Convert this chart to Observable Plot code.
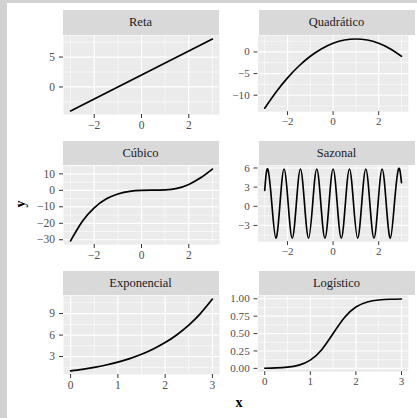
<!DOCTYPE html>
<html>
<head>
<meta charset="utf-8">
<script src="https://cdn.jsdelivr.net/npm/d3@7"></script>
<script src="https://cdn.jsdelivr.net/npm/@observablehq/plot@0.6"></script>
<style>
  html, body { margin: 0; padding: 0; }
  body { width: 417px; height: 418px; background: #d2d2d2; position: relative; overflow: hidden; }
  #paper { position: absolute; left: 7px; top: 3px; width: 410px; height: 415px; background: #ffffff; }
  .strip { position: absolute; background: #D9D9D9; color: #1A1A1A; font-family: "Liberation Serif", serif;
           font-size: 12.5px; text-align: center; box-sizing: border-box; }
  .panel { position: absolute; }
  .panel svg { overflow: visible; font-family: "Liberation Serif", serif !important; }
  .panel svg text { font-family: "Liberation Serif", serif !important; font-size: 11.5px !important; }
  .atitle { position: absolute; font-family: "Liberation Serif", serif; font-weight: bold; font-size: 14px; color: #000; }
</style>
</head>
<body>
<div id="paper"></div>
<div id="root"></div>
<script>
// ---------------- data ----------------
const titles = ["Reta", "Quadrático", "Cúbico", "Sazonal", "Exponencial", "Logístico"];

const retaX = [-3, 3];
const retaY = [-4, 8];

const quadX = [-3, -2.5, -2, -1.5, -1, -0.5, 0, 0.5, 1, 1.5, 2, 2.5, 3];
const quadY = [-13, -9.25, -6, -3.25, -1, 0.75, 2, 2.75, 3, 2.75, 2, 0.75, -1];

const cubX = [-3, -2.5, -2, -1.5, -1, -0.5, 0, 0.5, 1, 1.5, 2, 2.5, 3];
const cubY = [-30.7, -18.8, -10.6, -5.3, -2.2, -0.6, 0, 0.1, 0.3, 1.2, 3.6, 7.6, 12.9];

const sazX = [-3, -2.868, -2.689, -2.510, -2.330, -2.151, -1.972, -1.793, -1.613, -1.434, -1.255, -1.076,
              -0.896, -0.717, -0.538, -0.359, -0.179, 0, 0.179, 0.359, 0.538, 0.717, 0.896, 1.076, 1.255,
              1.434, 1.613, 1.793, 1.972, 2.151, 2.330, 2.510, 2.689, 2.868, 3];
const sazY = [2.5, 5.85, 0.42, -5.0, 0.42, 5.85, 0.42, -5.0, 0.42, 5.85, 0.42, -5.0,
              0.42, 5.85, 0.42, -5.0, 0.42, 5.85, 0.42, -5.0, 0.42, 5.85, 0.42, -5.0, 0.42,
              5.85, 0.42, -5.0, 0.42, 5.85, 0.42, -5.0, 0.42, 5.85, 3.7];

const expX = [0, 0.25, 0.5, 0.75, 1, 1.25, 1.5, 1.75, 2, 2.25, 2.5, 2.75, 3];
const expY = [1, 1.22, 1.49, 1.82, 2.23, 2.72, 3.32, 4.06, 4.95, 6.05, 7.39, 9.03, 11.02];

const logX = [0, 0.25, 0.5, 0.75, 1, 1.25, 1.5, 1.75, 2, 2.25, 2.5, 2.75, 3];
const logY = [0.0025, 0.0067, 0.018, 0.047, 0.119, 0.269, 0.5, 0.731, 0.881, 0.953, 0.982, 0.993, 0.9975];

// ticks
const symXTicks = [-2, 0, 2];
const symXLabels = ["−2", "0", "2"];
const symXMinor = [-3, -1, 1, 3];
const posXTicks = [0, 1, 2, 3];
const posXLabels = ["0", "1", "2", "3"];
const posXMinor = [0.5, 1.5, 2.5];

const retaYTicks = [0, 5];
const retaYLabels = ["0", "5"];
const retaYMinor = [-2.5, 2.5, 7.5];
const quadYTicks = [-10, -5, 0];
const quadYLabels = ["−10", "−5", "0"];
const quadYMinor = [-12.5, -7.5, -2.5, 2.5];
const cubYTicks = [-30, -20, -10, 0, 10];
const cubYLabels = ["−30", "−20", "−10", "0", "10"];
const cubYMinor = [-25, -15, -5, 5, 15];
const sazYTicks = [-3, 0, 3, 6];
const sazYLabels = ["−3", "0", "3", "6"];
const sazYMinor = [-4.5, -1.5, 1.5, 4.5];
const expYTicks = [3, 6, 9];
const expYLabels = ["3", "6", "9"];
const expYMinor = [1.5, 4.5, 7.5, 10.5];
const logYTicks = [0, 0.25, 0.5, 0.75, 1];
const logYLabels = ["0.00", "0.25", "0.50", "0.75", "1.00"];
const logYMinor = [0.125, 0.375, 0.625, 0.875];

// ---------------- layout ----------------
const colLeft = [62.5, 258.5];
const panelW = 156;
const rowTop = [10, 140.5, 270.5];
const stripH = 24.5;
const panelH = 79;
const ML = 45, MR = 10, MB = 24;

const panels = [
  {title: titles[0], xs: retaX, ys: retaY, xT: symXTicks, xL: symXLabels, xM: symXMinor, yT: retaYTicks, yL: retaYLabels, yM: retaYMinor, col: 0, row: 0},
  {title: titles[1], xs: quadX, ys: quadY, xT: symXTicks, xL: symXLabels, xM: symXMinor, yT: quadYTicks, yL: quadYLabels, yM: quadYMinor, col: 1, row: 0},
  {title: titles[2], xs: cubX, ys: cubY, xT: symXTicks, xL: symXLabels, xM: symXMinor, yT: cubYTicks, yL: cubYLabels, yM: cubYMinor, col: 0, row: 1},
  {title: titles[3], xs: sazX, ys: sazY, xT: symXTicks, xL: symXLabels, xM: symXMinor, yT: sazYTicks, yL: sazYLabels, yM: sazYMinor, col: 1, row: 1},
  {title: titles[4], xs: expX, ys: expY, xT: posXTicks, xL: posXLabels, xM: posXMinor, yT: expYTicks, yL: expYLabels, yM: expYMinor, col: 0, row: 2},
  {title: titles[5], xs: logX, ys: logY, xT: posXTicks, xL: posXLabels, xM: posXMinor, yT: logYTicks, yL: logYLabels, yM: logYMinor, col: 1, row: 2}
];

const expand = a => { const lo = d3.min(a), hi = d3.max(a), p = (hi - lo) * 0.05; return [lo - p, hi + p]; };

const root = document.getElementById("root");

for (const p of panels) {
  const left = colLeft[p.col];
  const top = rowTop[p.row];

  const strip = document.createElement("div");
  strip.className = "strip";
  strip.style.left = left + "px";
  strip.style.top = top + "px";
  strip.style.width = panelW + "px";
  strip.style.height = stripH + "px";
  strip.style.lineHeight = stripH + "px";
  strip.textContent = p.title;
  root.appendChild(strip);

  const data = p.xs.map((x, i) => ({x, y: p.ys[i]}));
  const xLab = d => p.xL[p.xT.indexOf(d)];
  const yLab = d => p.yL[p.yT.indexOf(d)];

  const chart = Plot.plot({
    width: ML + panelW + MR,
    height: panelH + MB,
    marginLeft: ML,
    marginRight: MR,
    marginTop: 0,
    marginBottom: MB,
    style: {fontFamily: "Liberation Serif, serif", fontSize: "11.5px", background: "transparent", overflow: "visible"},
    x: {domain: expand(p.xs), label: null},
    y: {domain: expand(p.ys), label: null},
    marks: [
      Plot.frame({fill: "#EBEBEB", stroke: "none"}),
      Plot.ruleX(p.xM, {stroke: "#ffffff", strokeWidth: 0.6}),
      Plot.ruleY(p.yM, {stroke: "#ffffff", strokeWidth: 0.6}),
      Plot.ruleX(p.xT, {stroke: "#ffffff", strokeWidth: 1.2}),
      Plot.ruleY(p.yT, {stroke: "#ffffff", strokeWidth: 1.2}),
      Plot.axisX({ticks: p.xT, tickFormat: xLab, tickSize: 4, tickPadding: 2, fill: "#4D4D4D", stroke: "#333333", label: null}),
      Plot.axisY({ticks: p.yT, tickFormat: yLab, tickSize: 4, tickPadding: 4.5, fill: "#4D4D4D", stroke: "#333333", label: null}),
      Plot.line(data, {x: "x", y: "y", curve: "natural", stroke: "#000000", strokeWidth: 1.7})
    ]
  });

  const holder = document.createElement("div");
  holder.className = "panel";
  holder.style.left = (left - ML) + "px";
  holder.style.top = (top + stripH) + "px";
  holder.appendChild(chart);
  root.appendChild(holder);
}

// axis titles
const xt = document.createElement("div");
xt.className = "atitle";
xt.textContent = "x";
xt.style.left = "239px";
xt.style.top = "403px";
xt.style.transform = "translate(-50%, -50%)";
root.appendChild(xt);

const yt = document.createElement("div");
yt.className = "atitle";
yt.textContent = "y";
yt.style.left = "20.5px";
yt.style.top = "204px";
yt.style.transform = "translate(-50%, -50%) rotate(-90deg)";
root.appendChild(yt);
</script>
</body>
</html>
